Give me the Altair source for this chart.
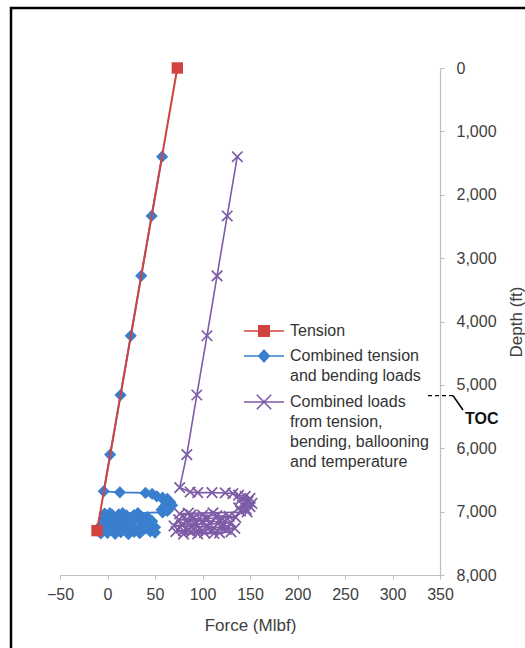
import altair as alt
import pandas as pd

# ---------------- data ----------------
series_names = [
    "Tension",
    "Combined tension|and bending loads",
    "Combined loads|from tension,|bending, ballooning|and temperature",
]
series_colors = ["#D0433F", "#3A7FCF", "#7D5BA6"]

tension_force = [73.5, -11]
tension_depth = [0, 7300]

blue_force = [57.5, 46.5, 35.5, 24.5, 13.7, 2.8, -4, 13, 40, 47, 52, 58, 63, 60, 66, 62, 68, 60,
              65, 57, 63, 58, 32, 16, 2.6, -3, 5, 12, 20, 28, 35, 42, 30, 18, 6, -4, 8, 22, 36,
              47, 38, 25, 12, 0, -6, 10, 24, 40, 50, 33, 18, 4, -5, 9, 23, 36, 45, 28, 14, 0,
              -7, 8, 22, 34, 50]
blue_depth = [1400, 2335, 3280, 4225, 5160, 6100, 6680, 6695, 6705, 6720, 6760, 6780, 6800, 6830,
              6850, 6880, 6900, 6920, 6950, 6970, 6990, 7010, 7025, 7025, 7025, 7030, 7050, 7045,
              7060, 7055, 7070, 7085, 7095, 7090, 7100, 7110, 7125, 7135, 7140, 7150, 7170, 7175,
              7180, 7190, 7205, 7215, 7220, 7230, 7245, 7255, 7260, 7270, 7280, 7290, 7295, 7300,
              7310, 7320, 7325, 7335, 7345, 7350, 7355, 7340, 7330]

purple_force = [136.6, 126, 115.3, 104.7, 94, 83.5, 76, 87, 95, 110, 124, 132, 138, 145, 150, 140,
                148, 152, 142, 150, 138, 146, 140, 147, 111, 85, 76, 88, 100, 115, 128, 135, 120,
                105, 90, 75, 85, 100, 118, 130, 122, 108, 92, 78, 70, 88, 104, 120, 134, 125, 110,
                95, 80, 72, 88, 102, 118, 130, 112, 95, 80]
purple_depth = [1400, 2335, 3280, 4225, 5160, 6100, 6620, 6690, 6700, 6700, 6705, 6715, 6740, 6760,
                6790, 6810, 6840, 6870, 6890, 6920, 6940, 6960, 6990, 7005, 7020, 7025, 7035, 7050,
                7055, 7065, 7075, 7090, 7100, 7105, 7115, 7125, 7140, 7150, 7160, 7170, 7185, 7195,
                7200, 7210, 7225, 7235, 7240, 7250, 7265, 7280, 7285, 7295, 7300, 7315, 7325, 7330,
                7335, 7320, 7345, 7350, 7355]

x_ticks = [-50, 0, 50, 100, 150, 200, 250, 300, 350]
y_ticks = [0, 1000, 2000, 3000, 4000, 5000, 6000, 7000, 8000]

toc_depth = [5170]
toc_label = ["TOC"]

# ---------------- tables ----------------
rows = []
for name, fs, ds in zip(series_names,
                        [tension_force, blue_force, purple_force],
                        [tension_depth, blue_depth, purple_depth]):
    for i, (f, d) in enumerate(zip(fs, ds)):
        rows.append({"series": name, "idx": i, "force": f, "depth": d})
df = pd.DataFrame(rows)
toc_df = pd.DataFrame({"depth": toc_depth, "label": toc_label})

FONT = "Liberation Sans"
TXT = "#404040"

x_enc = alt.X(
    "force:Q",
    scale=alt.Scale(domain=[-50, 350], nice=False, zero=False),
    axis=alt.Axis(values=x_ticks, title="Force (Mlbf)", grid=False,
                  labelFontSize=16, titleFontSize=17, labelPadding=7, titlePadding=15,
                  tickSize=4, labelFlush=False),
)
y_enc = alt.Y(
    "depth:Q",
    scale=alt.Scale(domain=[0, 8000], reverse=True, nice=False, zero=False),
    axis=alt.Axis(orient="right", values=y_ticks, format=",.0f", title="Depth (ft)", grid=False,
                  labelFontSize=16, titleFontSize=17, labelPadding=12,
                  titleAngle=270, titleX=76, titleBaseline="middle",
                  tickSize=4, labelFlush=False),
)

base = alt.Chart(df)


def series_layers(k, shape, size, filled, sw_line, sw_pt):
    name = series_names[k]
    col = series_colors[k]
    sub = base.transform_filter(alt.datum.series == name)
    line = sub.mark_line(color=col, strokeWidth=sw_line).encode(x=x_enc, y=y_enc, order="idx:Q")
    pts = sub.mark_point(shape=shape, size=size, filled=filled, color=col, opacity=1,
                         strokeWidth=sw_pt).encode(x=x_enc, y=y_enc)
    return [line, pts]


cross_x = "M-1,-1L1,1M-1,1L1,-1"

layers = []
layers += series_layers(1, "diamond", 150, True, 1.8, 1)
layers += series_layers(2, cross_x, 110, False, 1.6, 1.7)
layers += series_layers(0, "square", 130, True, 2, 1)

# legend layer (draws nothing, supplies the legend)
legend_paths = [
    "M-2.5,0H2.5M-0.65,-0.65H0.65V0.65H-0.65Z",
    "M-2.5,0H2.5M0,-0.72L0.65,0L0,0.72L-0.65,0Z",
    "M-2.5,0H2.5M-0.9,-0.9L0.9,0.9M-0.9,0.9L0.9,-0.9",
]
leg = alt.Legend(
    title=None, orient="none", legendX=183, legendY=254,
    labelExpr="split(datum.label, '|')", labelFont=FONT, labelFontSize=16,
    labelColor="#333333", labelLimit=400, labelOffset=17, labelBaseline="middle",
    symbolSize=256, symbolStrokeWidth=1.6, symbolOffset=12, rowPadding=7,
)
legend_layer = base.transform_filter("false").mark_point(
    filled=True, opacity=1, strokeWidth=1.6, size=256).encode(
    x=x_enc, y=y_enc,
    fill=alt.Fill("series:N", scale=alt.Scale(domain=series_names, range=series_colors), legend=leg),
    stroke=alt.Stroke("series:N", scale=alt.Scale(domain=series_names, range=series_colors), legend=leg),
    shape=alt.Shape("series:N", scale=alt.Scale(domain=series_names, range=legend_paths), legend=leg),
)
layers.append(legend_layer)

# TOC annotation
toc = alt.Chart(toc_df)
toc_dash = toc.mark_rule(color="black", strokeWidth=1.4, strokeDash=[4, 3]).encode(
    y=y_enc, x=alt.value(368), x2=alt.value(393))
toc_diag = toc.mark_rule(color="black", strokeWidth=1.6).encode(
    y=y_enc, x=alt.value(393), x2=alt.value(403), y2=alt.value(342))
toc_text = toc.mark_text(align="left", baseline="middle", fontWeight="bold", fontSize=16,
                         font=FONT, color="#111111", dy=23).encode(
    y=y_enc, x=alt.value(405), text="label:N")
layers += [toc_dash, toc_diag, toc_text]

# outer frame
frame = alt.Chart(pd.DataFrame({"a": [0]})).mark_rect(
    fill="transparent", stroke="black", strokeWidth=2.5).encode(
    x=alt.value(-49), y=alt.value(-60), x2=alt.value(600), y2=alt.value(640))
layers.append(frame)

chart = alt.layer(*layers).properties(
    width=380, height=507,
    padding={"left": 60, "top": 68, "right": 85, "bottom": 73},
    autosize=alt.AutoSizeParams(type="none"),
).configure(
    background="white", style={"guide-label": {"lineHeight": 20}},
).configure_view(stroke=None).configure_axis(
    labelFont=FONT, titleFont=FONT, labelColor=TXT, titleColor=TXT, titleFontWeight="normal",
    domainColor="#BFBFBF", tickColor="#BFBFBF", domainWidth=1.2,
)

chart.save("out.html", embed_options={"renderer": "svg", "actions": False})
